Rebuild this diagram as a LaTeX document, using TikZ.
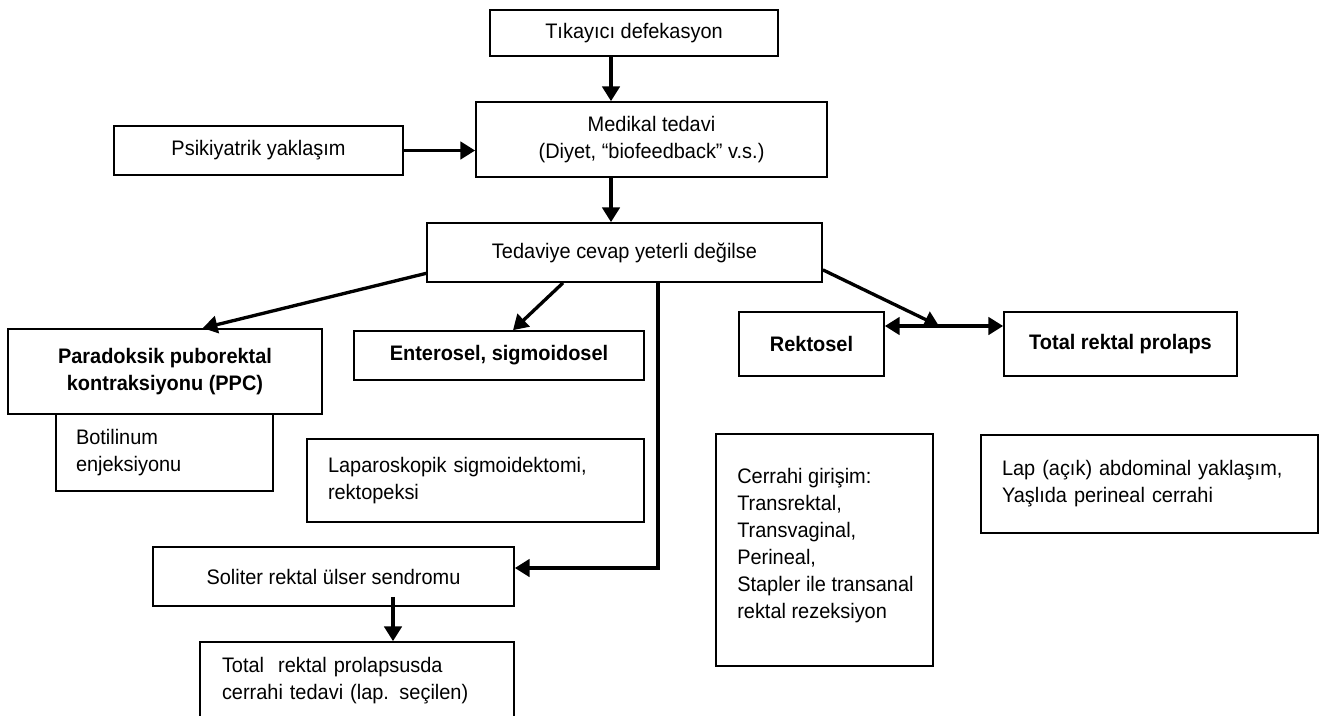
\documentclass[tikz,border=0pt]{standalone}
\usepackage{fontspec}
\setmainfont{Liberation Sans}[FakeStretch = 0.95]
\usepackage{tikz}
\usetikzlibrary{calc,arrows.meta}

\begin{document}
\begin{tikzpicture} [x = 0.75pt, y = -0.75pt,
    kutu/.style = {draw, line width = 1.3pt, inner sep = 0pt, font = \fontsize{15.75}{20.25}\selectfont},
    kalin/.style = {kutu, font = \fontsize{15.75}{20.25}\selectfont\bfseries, align = center},
    metin/.style = {inner sep = 0pt, align = left, font = \fontsize{15.75}{20.25}\selectfont},
    ok/.style = {line width = 2.5pt, -{Triangle[length = 11pt, width = 13pt]}},
    ciftok/.style = {line width = 2.5pt, {Triangle[length = 11pt, width = 13pt]}-{Triangle[length = 11pt, width = 13pt]}}]
  \useasboundingbox (0,0) rectangle (1320,715);
  \clip (0,0) rectangle (1320,715);
  \fill [white] (0,0) rectangle (1320,715);
  \node [kutu, minimum width = 216pt, minimum height = 34.5pt] (tikayici) at (634,33) {Tıkayıcı defekasyon};
  \node [kutu, align = center, minimum width = 263.25pt, minimum height = 56.25pt] (medikal) at (651.5,139.5) {Medikal tedavi\\(Diyet, “biofeedback” v.s.)};
  \node [kutu, minimum width = 216.75pt, minimum height = 36.75pt] (psikiyatrik) at (258.5,150.5) {Psikiyatrik yaklaşım};
  \node [kutu, minimum width = 296.25pt, minimum height = 44.25pt] (tedaviye) at (624.5,252.5) {Tedaviye cevap yeterli değilse};
  \node [kalin, minimum width = 235.5pt, minimum height = 63.75pt] (ppc) at (165,371.5) {Paradoksik puborektal\\kontraksiyonu (PPC)};
  \node [kutu, align = left, text width = 132.75pt, minimum width = 162.75pt, minimum height = 57.75pt] (botilinum) at (164.5,452.5) {Botilinum\\enjeksiyonu};
  \node [kalin, minimum width = 217.5pt, minimum height = 36.75pt] (enterosel) at (499,355.5) {Enterosel, sigmoidosel};
  \node [kutu, align = left, text width = 221.25pt, minimum width = 252.75pt, minimum height = 62.25pt] (laparoskopik) at (475.5,480.5) {Laparoskopik sigmoidektomi,\\rektopeksi};
  \node [kutu, minimum width = 270.75pt, minimum height = 44.25pt] (soliter) at (333.5,576.5) {Soliter rektal ülser sendromu};
  \node [kutu, align = left, text width = 202.5pt, minimum width = 235.5pt, minimum height = 58.5pt] (totalcerrahi) at (357,681) {Total\ \ rektal prolapsusda\\cerrahi tedavi (lap. seçilen)};
  \node [kalin, minimum width = 108.75pt, minimum height = 48pt] (rektosel) at (811.5,344) {Rektosel};
  \node [kalin, minimum width = 174.75pt, minimum height = 48pt] (total) at (1120.5,344) {Total rektal prolaps};
  \node [kutu, minimum width = 162.75pt, minimum height = 174pt] (cerrahi) at (824.5,550) {};
  \node [metin, anchor = north west] (cerrahimetin) at (737,468) {Cerrahi girişim:\\Transrektal,\\Transvaginal,\\Perineal,\\Stapler ile transanal\\rektal rezeksiyon};
  \node [kutu, align = left, text width = 221.25pt, minimum width = 252.75pt, minimum height = 73.5pt] (lap) at (1149.5,484) {Lap (açık) abdominal yaklaşım,\\Yaşlıda perineal cerrahi};
  \coordinate (eksen) at (611,0);
  \coordinate (cift) at (0,326);
  \coordinate (bulusma) at (939,326);
  \draw [ok] (tikayici.south -| eksen) -- (medikal.north -| eksen);
  \draw [ok] (psikiyatrik.east) -- (psikiyatrik.east -| medikal.west);
  \draw [ok] (medikal.south -| eksen) -- (tedaviye.north -| eksen);
  \draw [ok] (tedaviye.186) -- (ppc.49);
  \draw [ok] ($(tedaviye.south)+(-61.5,0)$) -- ($(enterosel.north)+(14,0)$);
  \draw [ok] ($(tedaviye.south)+(33.5,0)$) |- ($(soliter.east)+(0,-8.5)$);
  \draw [ok] (tedaviye.-5) -- (bulusma);
  \draw [ciftok] (rektosel.east |- cift) -- (total.west |- cift);
  \draw [ok] ($(soliter.south)+(59.5,-10)$) -- ($(totalcerrahi.north)+(36,0)$);
\end{tikzpicture}
\end{document}
